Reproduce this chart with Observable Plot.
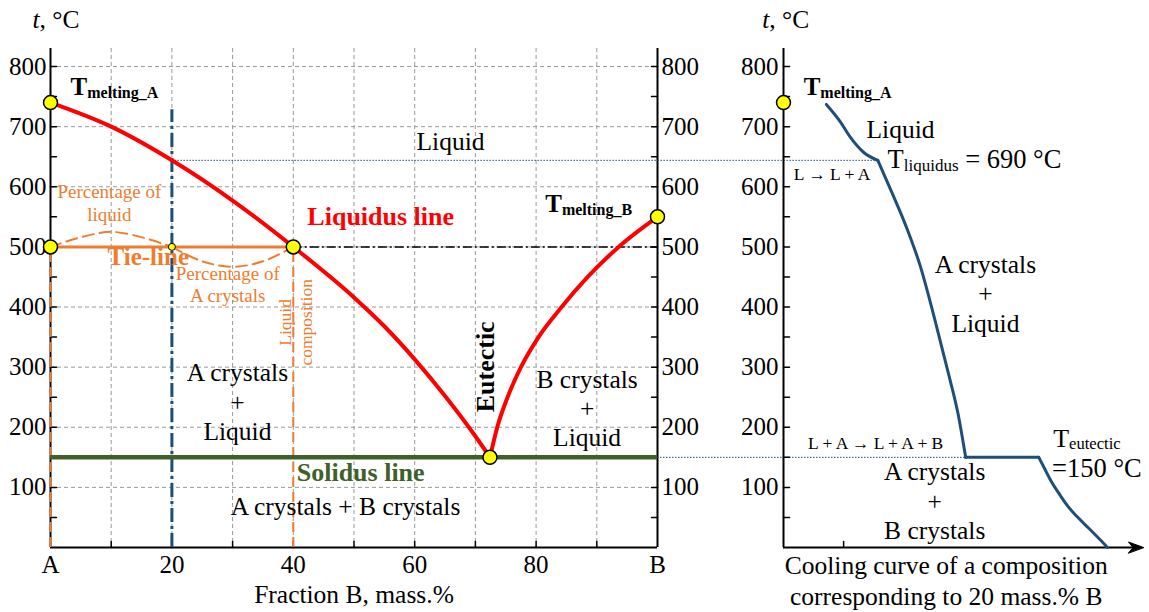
<!DOCTYPE html>
<html><head><meta charset="utf-8">
<script src="https://cdn.jsdelivr.net/npm/d3@7"></script>
<script src="https://cdn.jsdelivr.net/npm/@observablehq/plot@0.6"></script>
<style>
body{margin:0;background:#fff;}
#chart{position:relative;width:1149px;height:612px;}
#chart svg{position:absolute;left:0;top:0;}
</style></head><body><div id="chart"></div>
<script>
// ---------- data: phase diagram ----------
const fractionTicks = [0, 20, 40, 60, 80, 100];
const fractionTickLabels = ["A", "20", "40", "60", "80", "B"];
const fractionGrid = [10, 20, 30, 40, 50, 60, 70, 80, 90];
const fractionMinorTicks = [10, 20, 30, 40, 50, 60, 70, 80, 90];
const tempTicks = [100, 200, 300, 400, 500, 600, 700, 800];
const tempMinorTicks = [50, 100, 150, 200, 250, 300, 350, 400, 450, 500, 550, 600, 650, 700, 750, 800];

const liquidusAX = [0, 10, 20, 30, 40, 50, 55, 60, 65, 70, 72.4];
const liquidusAT = [740, 700, 644, 577, 500, 416, 368, 313, 252, 185, 150];
const liquidusBX = [72.4, 73.6, 75.3, 77.5, 80.4, 84.2, 88.5, 93.6, 100];
const liquidusBT = [150, 200, 250, 300, 350, 400, 450, 500, 550];

const meltA = 740, meltB = 550;
const eutecticX = 72.4, eutecticT = 150;
const alloyX = 20, alloyLineTop = 728, alloyLiquidusT = 644;
const tieT = 500, liquidCompX = 40;
const liquidArcX = [0, 10, 20];
const liquidArcT = [500, 525, 500];
const crystalArcX = [20, 25, 30, 35, 40];
const crystalArcT = [500, 476, 467, 476, 500];

// ---------- data: cooling curve (20 mass.% B) ----------
const coolLiquidTime = [11.9, 15.8, 18.6, 22.3, 26.2];
const coolLiquidTemp = [737, 708, 682, 657, 644];
const coolPrimaryTime = [26.2, 30, 34, 38, 42, 46, 48.5, 50.6];
const coolPrimaryTemp = [644, 592, 535, 468, 380, 285, 222, 150];
const coolEutecticTime = [50.6, 70.9];
const coolEutecticTemp = [150, 150];
const coolSolidTime = [70.9, 72.3, 74.2, 76.5, 78.8, 81.6, 84.8, 88.1, 90];
const coolSolidTemp = [150, 134, 112, 90, 70, 51, 32, 12, 0];
const timeTicks = [16.7];

// ---------- styling ----------
const FONT = "Liberation Serif";
const ORANGE = "#ED7D31", RED = "#FF0000", BLUE = "#1F4E79", GREEN = "#3F6129", YELLOW = "#FFFF00";
const W = 1149, H = 612, TOP = 48, BOTTOM = 65;
const L_LEFT = 50, L_RIGHT = 492, R_LEFT = 783, R_RIGHT = 6;

const zip = (xs, ys, extra = {}) => xs.map((x, i) => ({x, y: ys[i], ...extra}));
const tickShape = {draw(c, l) { c.moveTo(0, 0); c.lineTo(0, -l); }};
const arrowShape = {draw(c, l) { c.moveTo(0, -l); c.lineTo(-5.5, 0); c.lineTo(0, -l * 0.3); c.lineTo(5.5, 0); c.closePath(); }};
function label(text, x, y, o = {}) {
  return Plot.text([text], {x, y, text: d => d, lineAnchor: "bottom", fontSize: 25.5, fontFamily: FONT, fill: "black", ...o});
}
const yellowDot = {fill: YELLOW, stroke: "black", strokeWidth: 1.5};
const axisFont = {fontSize: 25, fontFamily: FONT, label: null};

// ---------- right panel: cooling curve ----------
const coolData = [
  ...zip(coolLiquidTime, coolLiquidTemp, {stage: "L"}),
  ...zip(coolPrimaryTime, coolPrimaryTemp, {stage: "L+A"}),
  ...zip(coolEutecticTime, coolEutecticTemp, {stage: "E"}),
  ...zip(coolSolidTime, coolSolidTemp, {stage: "A+B"})
];

const right = Plot.plot({
  width: W, height: H,
  marginLeft: R_LEFT, marginRight: R_RIGHT, marginTop: TOP, marginBottom: BOTTOM,
  x: {domain: [0, 100], axis: null},
  y: {domain: [0, 830], label: null},
  style: {fontFamily: FONT, fontSize: "24px", background: "transparent", overflow: "visible"},
  marks: [
    Plot.ruleX([0], {stroke: "black", strokeWidth: 2}),
    Plot.ruleY([0], {x1: 0, x2: 98, stroke: "black", strokeWidth: 2}),
    Plot.vector([0], {x: 100, y: 0, length: 15, rotate: 90, anchor: "end", shape: arrowShape, fill: "black", stroke: "black", strokeWidth: 1}),
    Plot.vector(tempMinorTicks, {x: 0, y: d => d, length: 6, rotate: 90, anchor: "start", shape: tickShape, stroke: "black", strokeWidth: 1.5}),
    Plot.vector(timeTicks, {x: d => d, y: 0, length: 6, rotate: 0, anchor: "start", shape: tickShape, stroke: "black", strokeWidth: 1.5}),
    Plot.axisY(tempTicks, {anchor: "left", tickSize: 0, tickPadding: 5, ...axisFont}),
    Plot.line(coolData, {x: "x", y: "y", z: "stage", curve: "monotone-x", stroke: BLUE, strokeWidth: 3, strokeLinejoin: "round"}),
    Plot.dot([meltA], {x: 0, y: d => d, r: 7, ...yellowDot}),
    label("*{t}, °C", 0.6, 864),
    label("T_{melting_A}", 5.6, 752.5, {textAnchor: "start", fontWeight: "bold", fontSize: 25}),
    label("Liquid", 32.5, 681),
    label("T_{liquidus} = 690 °C", 28.9, 630.6, {textAnchor: "start", fontSize: 26.5}),
    label("L → L + A", 13.5, 611, {fontSize: 17.5}),
    label("A crystals\n+\nLiquid", 56.1, 358.8, {lineHeight: 1.15}),
    label("L + A → L + A + B", 25.6, 163.7, {fontSize: 17.5}),
    label("T_{eutectic}", 74.9, 167.5, {textAnchor: "start", fontSize: 26}),
    label("=150 °C", 74.6, 117.6, {textAnchor: "start", fontSize: 26.5}),
    label("A crystals\n+\nB crystals", 42, 13.5, {lineHeight: 1.17}),
    label("Cooling curve of a composition\ncorresponding to 20 mass.% B", 45.2, -96, {fontSize: 25.5, lineHeight: 1.22})
  ]
});

// link helpers: convert cooling-curve time into the phase diagram's x units via both scales
const xLeftScale = Plot.scale({x: {domain: [0, 100], range: [L_LEFT, W - L_RIGHT]}});
const xRightScale = right.scale("x");
const toLeft = t => xLeftScale.invert(xRightScale.apply(t));

// ---------- left panel: phase diagram ----------
const liquidusData = [
  ...zip(liquidusAX, liquidusAT, {branch: "A"}),
  ...zip(liquidusBX, liquidusBT, {branch: "B"})
];
const keyPoints = [
  {x: 0, y: meltA}, {x: 0, y: tieT}, {x: liquidCompX, y: tieT},
  {x: eutecticX, y: eutecticT}, {x: 100, y: meltB}
];

const left = Plot.plot({
  width: W, height: H,
  marginLeft: L_LEFT, marginRight: L_RIGHT, marginTop: TOP, marginBottom: BOTTOM,
  x: {domain: [0, 100], label: null},
  y: {domain: [0, 830], label: null},
  style: {fontFamily: FONT, fontSize: "24px", background: "transparent", overflow: "visible"},
  marks: [
    Plot.gridX(fractionGrid, {stroke: "#999", strokeOpacity: 1, strokeWidth: 1, strokeDasharray: "4,3"}),
    Plot.gridY(tempTicks, {stroke: "#999", strokeOpacity: 1, strokeWidth: 1, strokeDasharray: "4,3"}),
    Plot.ruleX([0, 100], {stroke: "black", strokeWidth: 2}),
    Plot.ruleY([0], {stroke: "black", strokeWidth: 2}),
    Plot.vector(tempMinorTicks, {x: 0, y: d => d, length: 6, rotate: 90, anchor: "start", shape: tickShape, stroke: "black", strokeWidth: 1.5}),
    Plot.vector(tempMinorTicks, {x: 100, y: d => d, length: 6, rotate: -90, anchor: "start", shape: tickShape, stroke: "black", strokeWidth: 1.5}),
    Plot.vector(fractionMinorTicks, {x: d => d, y: 0, length: 6, rotate: 0, anchor: "start", shape: tickShape, stroke: "black", strokeWidth: 1.5}),
    Plot.axisY(tempTicks, {anchor: "left", tickSize: 0, tickPadding: 4, ...axisFont}),
    Plot.axisY(tempTicks, {anchor: "right", tickSize: 0, tickPadding: 4, ...axisFont}),
    Plot.axisX(fractionTicks, {anchor: "bottom", tickSize: 0, tickPadding: 8, ...axisFont,
      tickFormat: d => fractionTickLabels[fractionTicks.indexOf(d)]}),
    // guide lines
    Plot.ruleX([0, liquidCompX], {y1: 0, y2: tieT, stroke: ORANGE, strokeWidth: 2, strokeDasharray: "10,5"}),
    Plot.ruleX([alloyX], {y1: 0, y2: alloyLineTop, stroke: BLUE, strokeWidth: 3, strokeDasharray: "14,4,3,4"}),
    Plot.ruleY([tieT], {x1: liquidCompX, x2: 100, stroke: "black", strokeWidth: 1.5, strokeDasharray: "9,3,2,3"}),
    Plot.ruleY([alloyLiquidusT], {x1: alloyX, x2: toLeft(coolPrimaryTime[0]), stroke: BLUE, strokeWidth: 1, strokeDasharray: "1.5,1.5"}),
    Plot.ruleY([eutecticT], {x1: 100, x2: toLeft(coolEutecticTime[0]), stroke: BLUE, strokeWidth: 1, strokeDasharray: "1.5,1.5"}),
    Plot.ruleY([tieT], {x1: 0, x2: liquidCompX, stroke: ORANGE, strokeWidth: 3}),
    Plot.line(zip(liquidArcX, liquidArcT), {x: "x", y: "y", curve: "catmull-rom", stroke: ORANGE, strokeWidth: 2, strokeDasharray: "11,6"}),
    Plot.line(zip(crystalArcX, crystalArcT), {x: "x", y: "y", curve: "catmull-rom", stroke: ORANGE, strokeWidth: 2, strokeDasharray: "11,6"}),
    Plot.ruleY([eutecticT], {x1: 0, x2: 100, stroke: GREEN, strokeWidth: 4.5}),
    Plot.line(liquidusData, {x: "x", y: "y", z: "branch", curve: "monotone-x", stroke: RED, strokeWidth: 4}),
    Plot.dot(keyPoints, {x: "x", y: "y", r: 7, ...yellowDot}),
    Plot.dot([tieT], {x: alloyX, y: d => d, r: 3.5, ...yellowDot, strokeWidth: 1}),
    // annotations
    label("*{t}, °C", 0.9, 864),
    label("T_{melting_A}", 3.3, 752.5, {textAnchor: "start", fontWeight: "bold", fontSize: 25}),
    label("Liquid", 65.9, 661),
    label("Liquidus line", 54.4, 536, {fontWeight: "bold", fill: RED, fontSize: 26}),
    label("T_{melting_B}", 81.5, 558, {textAnchor: "start", fontWeight: "bold", fontSize: 25}),
    label("Percentage of\nliquid", 9.7, 543, {fill: ORANGE, fontSize: 19, lineHeight: 1.2}),
    label("Tie-line", 16.1, 470, {fill: ORANGE, fontWeight: "bold", fontSize: 25}),
    label("Percentage of\nA crystals", 29.2, 408, {fill: ORANGE, fontSize: 19, lineHeight: 1.18}),
    label("Liquid\ncomposition", 40.2, 374.5, {fill: ORANGE, fontSize: 17.5, rotate: -90, lineAnchor: "middle", lineHeight: 1.25}),
    label("Eutectic", 71.7, 300.5, {fontWeight: "bold", fontSize: 26, rotate: -90, lineAnchor: "middle"}),
    label("A crystals\n+\nLiquid", 30.8, 178.8, {lineHeight: 1.15}),
    label("B crystals\n+\nLiquid", 88.4, 168.5, {lineHeight: 1.15}),
    label("Solidus line", 51.1, 111, {fontWeight: "bold", fill: GREEN, fontSize: 26}),
    label("A crystals + B crystals", 48.6, 54),
    label("Fraction B, mass.%", 50, -93)
  ]
});

const chart = document.getElementById("chart");
chart.appendChild(left);
chart.appendChild(right);

// rich text: _{...} subscript, *{...} italic
function enrich(svg) {
  svg.querySelectorAll("text").forEach(el => {
    if (el.querySelector("tspan")) return;
    const s = el.textContent;
    if (!/[_*]\{/.test(s)) return;
    const parts = s.split(/(_\{[^}]*\}|\*\{[^}]*\})/).filter(p => p !== "");
    const fs = parseFloat(getComputedStyle(el).fontSize);
    el.textContent = "";
    let shift = 0;
    for (const p of parts) {
      const t = document.createElementNS("http://www.w3.org/2000/svg", "tspan");
      let target = 0;
      if (p.startsWith("_{")) {
        t.textContent = p.slice(2, -1);
        t.setAttribute("font-size", (fs * 0.64).toFixed(1));
        target = fs * 0.1;
      } else if (p.startsWith("*{")) {
        t.textContent = p.slice(2, -1);
        t.setAttribute("font-style", "italic");
      } else {
        t.textContent = p;
      }
      if (target !== shift) { t.setAttribute("dy", (target - shift).toFixed(2)); shift = target; }
      el.appendChild(t);
    }
  });
}
enrich(left);
enrich(right);
</script></body></html>
